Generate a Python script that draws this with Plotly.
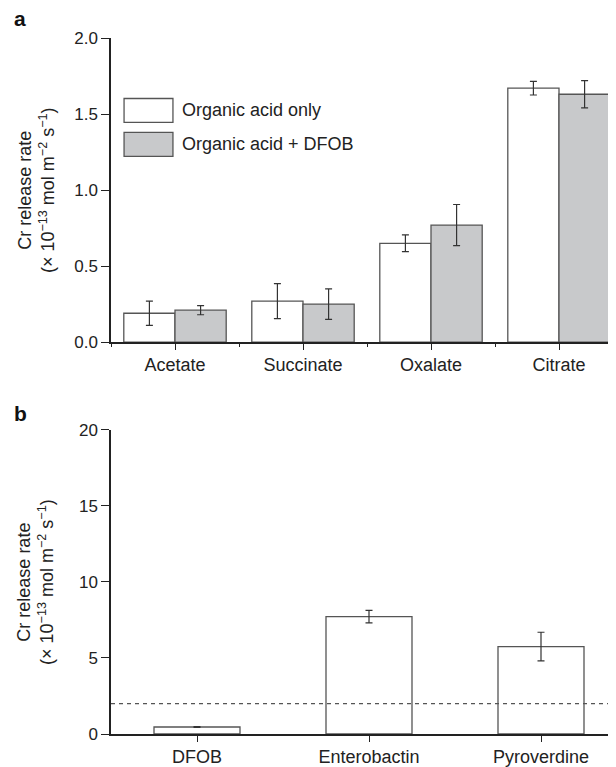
import plotly.graph_objects as go

# ---- data ----
acids = ["Acetate", "Succinate", "Oxalate", "Citrate"]
acid_only = [0.19, 0.27, 0.65, 1.67]
acid_only_err = [0.08, 0.115, 0.055, 0.045]
acid_dfob = [0.21, 0.25, 0.77, 1.63]
acid_dfob_err = [0.03, 0.10, 0.135, 0.09]

siderophores = ["DFOB", "Enterobactin", "Pyroverdine"]
sid_rate = [0.46, 7.72, 5.75]
sid_err = [0.03, 0.41, 0.94]
threshold = 2.0

legend_labels = ["Organic acid only", "Organic acid + DFOB"]

# ---- styles ----
OFF = 8  # default page body margin
W, H = 616 - OFF, 767 - OFF
FONT = "Liberation Sans, Arial, Helvetica, sans-serif"
TXT = "#222222"
EDGE = "#555555"
GRAY = "#c8c9cb"
AX = "#222222"

fig = go.Figure()

xa = list(range(len(acids)))
fig.add_trace(go.Bar(
    x=xa, y=acid_only, name=legend_labels[0], xaxis="x", yaxis="y",
    marker=dict(color="white", line=dict(color=EDGE, width=1.3)),
    error_y=dict(type="data", array=acid_only_err, color="#333333", thickness=1.2, width=3.5),
    showlegend=False,
))
fig.add_trace(go.Bar(
    x=xa, y=acid_dfob, name=legend_labels[1], xaxis="x", yaxis="y",
    marker=dict(color=GRAY, line=dict(color=EDGE, width=1.3)),
    error_y=dict(type="data", array=acid_dfob_err, color="#333333", thickness=1.2, width=3.5),
    showlegend=False,
))

xb = list(range(len(siderophores)))
fig.add_trace(go.Bar(
    x=xb, y=sid_rate, xaxis="x2", yaxis="y2", width=0.5,
    marker=dict(color="white", line=dict(color=EDGE, width=1.3)),
    error_y=dict(type="data", array=sid_err, color="#333333", thickness=1.2, width=3.5),
    showlegend=False,
))

# plot areas (viewport px): left 111, right 616; panel a 38-343, panel b 431-736
ml = 111 - OFF
mt = 38 - OFF
mb = H - (736 - OFF)
mr = 0
ph = H - mt - mb
pw = W - ml - mr

def ypaper(p):
    return (H - mb - (p - OFF)) / ph

def xpaper(p):
    return ((p - OFF) - ml) / pw

range_a_end = pw / 128 - 0.5
range_b_end = pw / 172 - 0.5

axis_common = dict(
    showline=True, linecolor=AX, linewidth=1.5, showgrid=False, zeroline=False,
    ticks="outside", tickcolor=AX, tickwidth=1.2,
)

fig.update_layout(
    width=W, height=H,
    margin=dict(l=ml, r=mr, t=mt, b=mb),
    paper_bgcolor="white", plot_bgcolor="white",
    barmode="group", bargap=0.2, bargroupgap=0,
    font=dict(family=FONT, size=18, color=TXT),
    xaxis=dict(
        **axis_common, ticklen=6, domain=[0, 1], anchor="y", range=[-0.5, range_a_end],
        tickmode="array", tickvals=xa, ticktext=acids,
        tickfont=dict(family=FONT, size=18, color=TXT),
        minor=dict(tickmode="linear", tick0=0.5, dtick=1, ticks="outside", ticklen=3,
                   tickcolor=AX, tickwidth=1),
    ),
    yaxis=dict(
        **axis_common, ticklen=8, domain=[ypaper(343), ypaper(38)], anchor="x", range=[0, 2.0],
        tickmode="array", tickvals=[0, 0.5, 1.0, 1.5, 2.0],
        ticktext=["0.0", "0.5", "1.0", "1.5", "2.0"],
        tickfont=dict(family=FONT, size=17, color=TXT),
    ),
    xaxis2=dict(
        **axis_common, ticklen=6, domain=[0, 1], anchor="y2", range=[-0.5, range_b_end],
        tickmode="array", tickvals=xb, ticktext=siderophores,
        tickfont=dict(family=FONT, size=18, color=TXT),
    ),
    yaxis2=dict(
        **axis_common, ticklen=8, domain=[ypaper(736), ypaper(431)], anchor="x2", range=[0, 20],
        tickmode="array", tickvals=[0, 5, 10, 15, 20],
        tickfont=dict(family=FONT, size=17, color=TXT),
    ),
)

# threshold dashed line
fig.add_shape(type="line", xref="x2 domain", yref="y2", x0=0, x1=1, y0=threshold, y1=threshold,
              line=dict(color="#555555", width=1.3, dash="4px,4px"))

# custom legend (large boxes) in panel a
leg_fills = ["white", GRAY]
leg_y = [(1.445, 1.602), (1.222, 1.379)]
for lab, fill, (y0, y1) in zip(legend_labels, leg_fills, leg_y):
    fig.add_shape(type="rect", xref="x", yref="y", x0=-0.398, x1=-0.016, y0=y0, y1=y1,
                  fillcolor=fill, line=dict(color=EDGE, width=1.3))
    fig.add_annotation(xref="x", yref="y", x=0.039, y=(y0 + y1) / 2, text=lab,
                       showarrow=False, xanchor="left", yanchor="middle",
                       font=dict(family=FONT, size=18, color=TXT))

# y-axis titles
ytitle = "Cr release rate<br>(× 10<sup>−13</sup> mol m<sup>−2</sup> s<sup>−1</sup>)"
for yref in ["y domain", "y2 domain"]:
    fig.add_annotation(xref="paper", yref=yref, x=xpaper(36), y=0.5, text=ytitle,
                       textangle=-90, showarrow=False, xanchor="center", yanchor="middle",
                       align="center", font=dict(family=FONT, size=18, color=TXT))

# panel letters
fig.add_annotation(xref="paper", yref="paper", x=xpaper(12), y=ypaper(18), text="<b>a</b>",
                   showarrow=False, xanchor="left", yanchor="middle",
                   font=dict(family=FONT, size=21, color="#111111"))
fig.add_annotation(xref="paper", yref="paper", x=xpaper(12), y=ypaper(415), text="<b>b</b>",
                   showarrow=False, xanchor="left", yanchor="middle",
                   font=dict(family=FONT, size=21, color="#111111"))

fig.write_html("out.html")
